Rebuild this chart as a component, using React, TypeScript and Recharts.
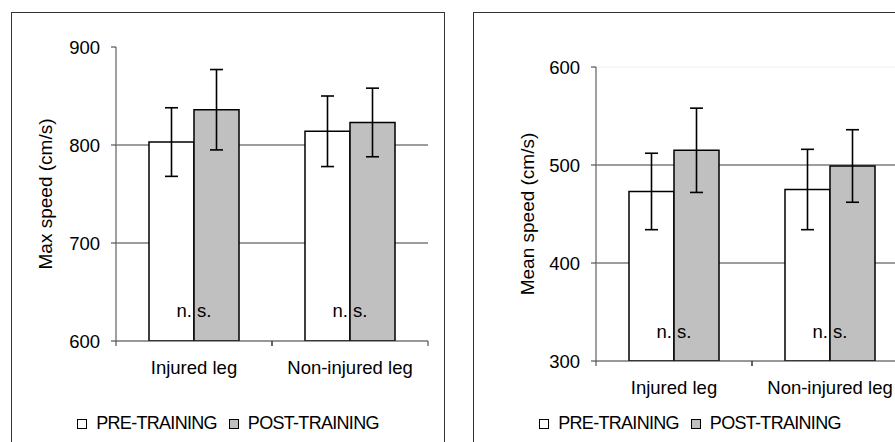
import React from "react";
import { BarChart, Bar, XAxis, YAxis, CartesianGrid, ErrorBar, ReferenceDot } from "recharts";

// ── data ─────────────────────────────────────────────────────────────
const categories = ["Injured leg", "Non-injured leg"];

const maxPre = [803, 814];
const maxPreErr = [35, 36];
const maxPost = [836, 823];
const maxPostErr = [41, 35];
const maxTicks = [600, 700, 800, 900];
const maxGrid = [700, 800];

const meanPre = [473, 475];
const meanPreErr = [39, 41];
const meanPost = [515, 499];
const meanPostErr = [43, 37];
const meanTicks = [300, 400, 500, 600];
const meanGrid = [400, 500];

const nsLabels = ["n. s.", "n. s."];
const legendItems = [
  { name: "PRE-TRAINING", fill: "#ffffff" },
  { name: "POST-TRAINING", fill: "#c0c0c0" },
];

const FONT = "'Liberation Sans', Arial, sans-serif";
const FS = 18.5;

function buildRows(pre: number[], preErr: number[], post: number[], postErr: number[]) {
  return categories.map((c, i) => ({ cat: c, pre: pre[i], preErr: preErr[i], post: post[i], postErr: postErr[i] }));
}

/* eslint-disable @typescript-eslint/no-explicit-any */
function CatTick({ x, y, payload, half }: any) {
  return (
    <g>
      <line x1={x - half} x2={x - half} y1={y} y2={y + 5} stroke="#333" />
      <line x1={x + half} x2={x + half} y1={y} y2={y + 5} stroke="#333" />
      <text x={x} y={y + 33} textAnchor="middle" fontSize={FS} fill="#000" fontFamily={FONT}>
        {payload.value}
      </text>
    </g>
  );
}
/* eslint-enable @typescript-eslint/no-explicit-any */

function Legend() {
  return (
    <div style={{ display: "flex", justifyContent: "center", alignItems: "center", fontSize: 18, letterSpacing: -0.7, color: "#000" }}>
      {legendItems.map((it, i) => (
        <div key={it.name} style={{ display: "flex", alignItems: "center", marginLeft: i ? 12 : 0 }}>
          <span style={{ width: 8, height: 8, border: "1px solid #000", background: it.fill, marginRight: 9 }} />
          <span>{it.name}</span>
        </div>
      ))}
    </div>
  );
}

type PanelProps = {
  left: number;
  label: string;
  rows: ReturnType<typeof buildRows>;
  ticks: number[];
  grid: number[];
  nsY: number;
  top: number;
  axisW: number;
  labelX: number;
  faintTop?: boolean;
};

function Panel({ left, label, rows, ticks, grid, nsY, top, axisW, labelX, faintTop }: PanelProps) {
  const width = axisW + 312 + 17;
  return (
    <>
      <div style={{ position: "absolute", left, top: 12, width: 432, height: 440, border: "1px solid #333", borderBottom: "none" }} />
      <div style={{ position: "absolute", left, top: 0 }}>
        <BarChart
          width={width}
          height={442}
          data={rows}
          margin={{ top, right: 17, bottom: 442 - top - 294 - 30, left: 0 }}
          barCategoryGap={33}
          barGap={0}
        >
          {faintTop && (
            <CartesianGrid vertical={false} horizontalValues={[ticks[ticks.length - 1]]} stroke="#eeeeee" />
          )}
          <CartesianGrid vertical={false} horizontalValues={grid} stroke="#3a3a3a" />
          <XAxis
            dataKey="cat"
            height={30}
            tickLine={false}
            tickSize={0}
            tickMargin={0}
            axisLine={{ stroke: "#333", strokeWidth: 1.2 }}
            tick={<CatTick half={78} />}
            interval={0}
          />
          <YAxis
            width={axisW}
            domain={[ticks[0], ticks[ticks.length - 1]]}
            ticks={ticks}
            allowDataOverflow
            tickSize={5}
            tickMargin={11}
            tick={{ fontSize: FS, fill: "#000", fontFamily: FONT }}
            axisLine={{ stroke: "#808080", strokeWidth: 1.5 }}
            tickLine={{ stroke: "#333" }}
            label={{
              value: label,
              angle: -90,
              position: "insideLeft",
              offset: labelX,
              style: { textAnchor: "middle", fontSize: 19, fill: "#000", fontFamily: FONT },
            }}
          />
          <Bar dataKey="pre" fill="#ffffff" stroke="#000" strokeWidth={1.5} isAnimationActive={false}>
            <ErrorBar dataKey="preErr" width={6.5} stroke="#000" strokeWidth={1.6} />
          </Bar>
          <Bar dataKey="post" fill="#c0c0c0" stroke="#000" strokeWidth={1.5} isAnimationActive={false}>
            <ErrorBar dataKey="postErr" width={6.5} stroke="#000" strokeWidth={1.6} />
          </Bar>
          {categories.map((c, i) => (
            <ReferenceDot
              key={c}
              x={c}
              y={nsY}
              r={0}
              fill="none"
              stroke="none"
              label={{ value: nsLabels[i], position: "center", fontSize: FS, fill: "#000", fontFamily: FONT }}
            />
          ))}
        </BarChart>
      </div>
      <div style={{ position: "absolute", left, top: 413, width: 434, fontFamily: FONT }}>
        <Legend />
      </div>
    </>
  );
}

export default function App() {
  const maxRows = buildRows(maxPre, maxPreErr, maxPost, maxPostErr);
  const meanRows = buildRows(meanPre, meanPreErr, meanPost, meanPostErr);
  return (
    <div style={{ position: "absolute", left: 0, top: 0, width: 895, height: 442, overflow: "hidden", background: "#fff", fontFamily: FONT }}>
      <Panel left={11} label="Max speed (cm/s)" rows={maxRows} ticks={maxTicks} grid={maxGrid} nsY={631} top={47} axisW={105} labelX={34} />
      <Panel left={473} label="Mean speed (cm/s)" rows={meanRows} ticks={meanTicks} grid={meanGrid} nsY={330} top={67} axisW={123} labelX={54} faintTop />
    </div>
  );
}
